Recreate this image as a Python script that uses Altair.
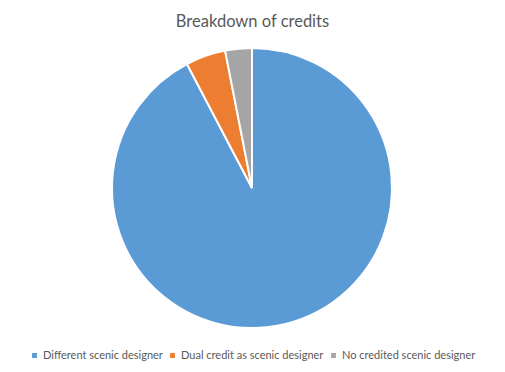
import altair as alt
import pandas as pd

categories = ["Different scenic designer", "Dual credit as scenic designer", "No credited scenic designer"]
values = [60, 3, 2]
colors = ["#5B9BD5", "#ED7D31", "#A5A5A5"]

df = pd.DataFrame({"cat": categories, "val": values, "order": [0, 1, 2]})

pie = alt.Chart(df).mark_arc(outerRadius=140, stroke="white", strokeWidth=2).encode(
    theta=alt.Theta("val:Q", stack=True),
    color=alt.Color(
        "cat:N",
        scale=alt.Scale(domain=categories, range=colors),
        legend=alt.Legend(
            title=None,
            orient="none",
            direction="horizontal",
            legendX=29,
            legendY=310,
            symbolType="square",
            symbolSize=40,
            labelFont="Lato",
            labelFontSize=11,
            labelColor="#595959",
            columnPadding=3,
            gridAlign="none",
            symbolOffset=0,
            labelOffset=3,
            labelLimit=300,
        ),
    ),
    order=alt.Order("order:Q"),
    x=alt.value(252),
    y=alt.value(148),
)

chart = pie.properties(
    width=505,
    height=332,
    padding={"top": 40, "left": 0, "right": 0, "bottom": 0},
    autosize=alt.AutoSizeParams(type="none"),
    title=alt.TitleParams(
        "Breakdown of credits",
        font="Lato",
        fontSize=16.5,
        fontWeight="normal",
        color="#595959",
        anchor="middle",
        offset=10,
    ),
).configure_view(stroke=None)

chart.save("out.html", embed_options={"renderer": "svg", "actions": False})
